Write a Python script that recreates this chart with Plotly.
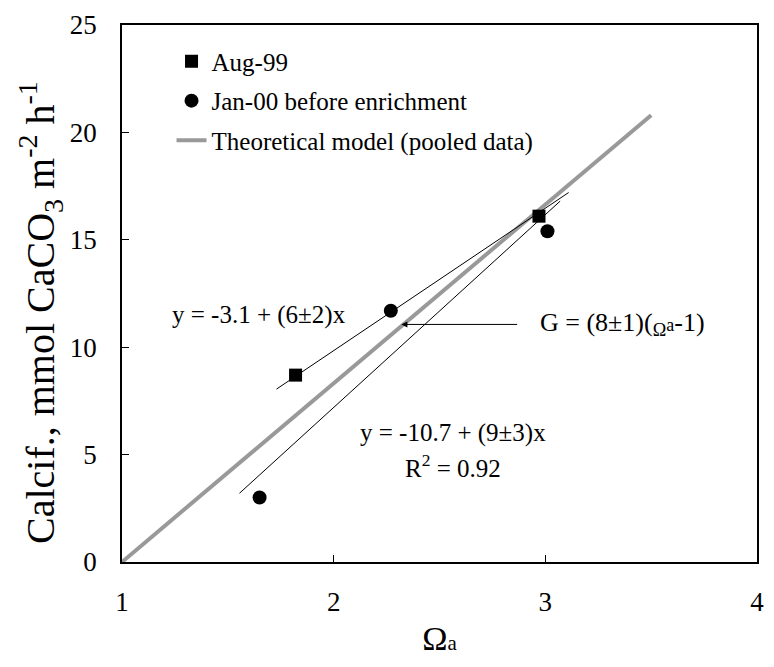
import plotly.graph_objects as go

# ---- data ----
aug_x = [1.82, 2.97]
aug_y = [8.7, 16.1]
jan_x = [1.65, 2.27, 3.01]
jan_y = [3.0, 11.7, 15.4]
model_x = [1.0, 3.5]
model_y = [0.0, 20.8]
fit1_x = [1.73, 3.11]
fit1_y = [8.05, 17.2]
fit2_x = [1.555, 3.07]
fit2_y = [3.2, 16.8]
x_ticks = [1, 2, 3, 4]
y_ticks = [0, 5, 10, 15, 20, 25]

FONT = "Liberation Serif, Times New Roman, serif"
ANN = 25

fig = go.Figure()
fig.add_trace(go.Scatter(x=model_x, y=model_y, mode="lines", name="Theoretical model (pooled data)",
                         line=dict(color="#999999", width=4), legendrank=3, legendgroup="c"))
fig.add_trace(go.Scatter(x=fit1_x, y=fit1_y, mode="lines", showlegend=False,
                         line=dict(color="black", width=1)))
fig.add_trace(go.Scatter(x=fit2_x, y=fit2_y, mode="lines", showlegend=False,
                         line=dict(color="black", width=1)))
fig.add_trace(go.Scatter(x=aug_x, y=aug_y, mode="markers", name="Aug-99",
                         marker=dict(symbol="square", size=13, color="black"), legendrank=1, legendgroup="a"))
fig.add_trace(go.Scatter(x=jan_x, y=jan_y, mode="markers", name="Jan-00 before enrichment",
                         marker=dict(symbol="circle", size=14, color="black"), legendrank=2, legendgroup="b"))

fig.add_annotation(x=1.645, y=11.5, text="y = -3.1 + (6±2)x", showarrow=False,
                   font=dict(size=ANN, color="black", family=FONT))
fig.add_annotation(x=2.32, y=11.06, ax=2.874, ay=11.06, axref="x", ayref="y", text="",
                   showarrow=True, arrowhead=2, arrowsize=1.2, arrowwidth=1, arrowcolor="black")
fig.add_annotation(x=2.965, y=11.1, xanchor="left", showarrow=False,
                   text="G = (8±1)(<sub>Ω</sub><span style='font-size:18px'>a</span>-1)",
                   font=dict(size=26, color="black", family=FONT))
fig.add_annotation(x=2.565, y=6.0, showarrow=False, text="y = -10.7 + (9±3)x",
                   font=dict(size=ANN, color="black", family=FONT))
fig.add_annotation(x=2.565, y=4.47, showarrow=False, text="R<sup>2</sup> = 0.92",
                   font=dict(size=ANN, color="black", family=FONT))
# y-axis title (placed as a rotated annotation so it can sit slightly below centre, as in the reference)
fig.add_annotation(xref="paper", yref="paper", x=-0.128, y=0.465, xanchor="center", yanchor="middle",
                   textangle=-90, showarrow=False,
                   text="Calcif., mmol CaCO<sub>3</sub> m<sup>-2</sup> h<sup>-1</sup>",
                   font=dict(size=40, color="black", family=FONT))

fig.update_layout(
    width=774, height=667,
    margin=dict(l=122, r=10, t=22, b=105),
    plot_bgcolor="white", paper_bgcolor="white",
    font=dict(family=FONT, color="black", size=27),
    showlegend=True,
    legend=dict(x=0.078, y=0.975, xanchor="left", yanchor="top", bgcolor="rgba(0,0,0,0)",
                font=dict(size=ANN, family=FONT), traceorder="grouped", tracegroupgap=4,
                itemwidth=30),
    xaxis=dict(range=[1, 4], tickvals=x_ticks, ticks="inside", ticklen=7, tickcolor="black",
               showline=True, linecolor="black", linewidth=1.5, mirror=True, showgrid=False,
               zeroline=False, ticklabelstandoff=15, tickfont=dict(size=27),
               title=dict(text="Ω<span style='font-size:21px'>a</span>", font=dict(size=34), standoff=10)),
    yaxis=dict(range=[0, 25], tickvals=y_ticks, ticks="inside", ticklen=7, tickcolor="black",
               showline=True, linecolor="black", linewidth=1.5, mirror=True, showgrid=False,
               zeroline=False, ticklabelstandoff=18, tickfont=dict(size=27)),
)

fig.write_html("out.html", config={"displayModeBar": False},
               post_script="document.body.style.margin='0px';")
